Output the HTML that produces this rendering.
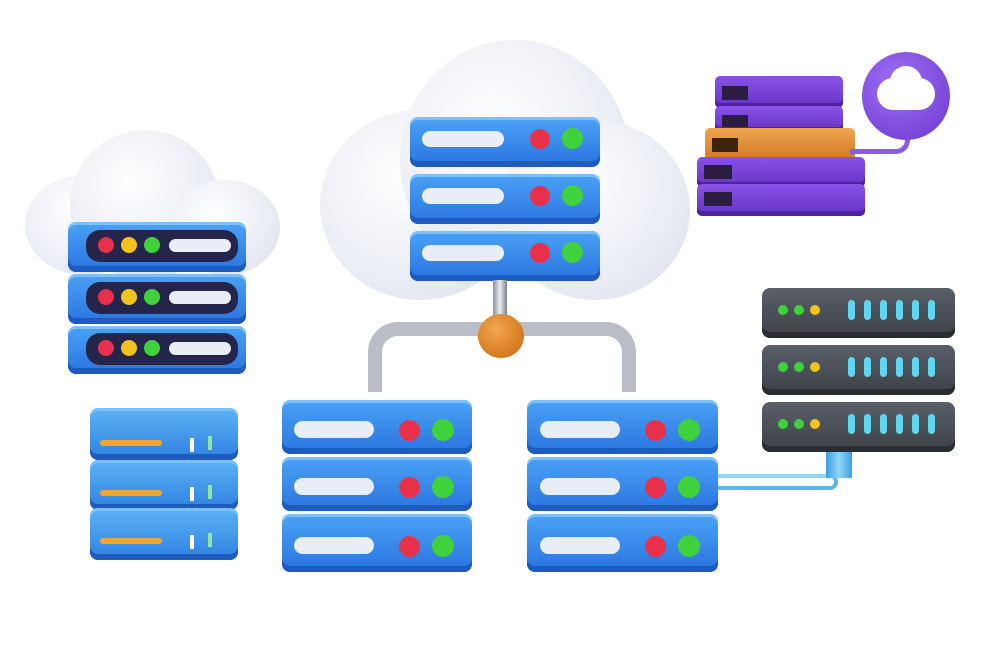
<!DOCTYPE html>
<html><head><meta charset="utf-8"><style>
body{margin:0;width:1000px;height:667px;background:#fff;position:relative;overflow:hidden;font-family:"Liberation Sans",sans-serif}
div{position:absolute;box-sizing:border-box}
.u{background:linear-gradient(#4aa2f5,#2a73e0);border-radius:8px;box-shadow:inset 0 -6px 0 #1e5bc0,inset 0 3px 0 #7cc0ff}
.p{background:#e9eef6;border-radius:10px}
.r{background:#e8304a;border-radius:50%}
.g{background:#3fd23c;border-radius:50%}
.y{background:#f2c21f;border-radius:50%}
.cl{background:radial-gradient(circle at 40% 35%,#ffffff,#e6e9f2 70%,#d6dbe8);border-radius:50%}
.gu{background:linear-gradient(#5a6068,#3c4148);border-radius:8px;box-shadow:inset 0 -6px 0 #2a2e33}
.bar{background:#5fd6f2;border-radius:4px;width:7px;height:20px}
.pu{background:linear-gradient(#8a52e8,#6434c4);border-radius:5px;box-shadow:inset 0 -5px 0 #4e22a0}
</style></head><body>

<!-- central cloud -->
<div class="cl" style="left:320px;top:110px;width:200px;height:190px"></div>
<div class="cl" style="left:400px;top:40px;width:230px;height:240px"></div>
<div class="cl" style="left:500px;top:120px;width:190px;height:180px"></div>

<!-- central stack -->
<div class="u" style="left:410px;top:117px;width:190px;height:50px"></div>
<div class="p" style="left:422px;top:131px;width:82px;height:16px"></div>
<div class="r" style="left:530px;top:129px;width:20px;height:20px"></div>
<div class="g" style="left:562px;top:128px;width:21px;height:21px"></div>
<div class="u" style="left:410px;top:174px;width:190px;height:50px"></div>
<div class="p" style="left:422px;top:188px;width:82px;height:16px"></div>
<div class="r" style="left:530px;top:186px;width:20px;height:20px"></div>
<div class="g" style="left:562px;top:185px;width:21px;height:21px"></div>
<div class="u" style="left:410px;top:231px;width:190px;height:50px"></div>
<div class="p" style="left:422px;top:245px;width:82px;height:16px"></div>
<div class="r" style="left:530px;top:243px;width:20px;height:20px"></div>
<div class="g" style="left:562px;top:242px;width:21px;height:21px"></div>

<!-- pipes -->
<div style="left:493px;top:280px;width:14px;height:50px;background:linear-gradient(90deg,#8a9098,#e8ecf0,#7a8088)"></div>
<div style="left:368px;top:322px;width:268px;height:70px;border:14px solid #b9bec6;border-bottom:none;border-radius:30px 30px 0 0"></div>
<div class="" style="left:478px;top:314px;width:46px;height:44px;border-radius:50%;background:radial-gradient(circle at 40% 35%,#f2a650,#d57a1e 70%,#a95a12)"></div>

<!-- bottom-left stack -->
<div class="u" style="left:282px;top:400px;width:190px;height:54px"></div>
<div class="p" style="left:294px;top:421px;width:80px;height:17px"></div>
<div class="r" style="left:399px;top:420px;width:21px;height:21px"></div>
<div class="g" style="left:432px;top:419px;width:22px;height:22px"></div>
<div class="u" style="left:282px;top:457px;width:190px;height:54px"></div>
<div class="p" style="left:294px;top:478px;width:80px;height:17px"></div>
<div class="r" style="left:399px;top:477px;width:21px;height:21px"></div>
<div class="g" style="left:432px;top:476px;width:22px;height:22px"></div>
<div class="u" style="left:282px;top:514px;width:190px;height:58px"></div>
<div class="p" style="left:294px;top:537px;width:80px;height:17px"></div>
<div class="r" style="left:399px;top:536px;width:21px;height:21px"></div>
<div class="g" style="left:432px;top:535px;width:22px;height:22px"></div>

<!-- bottom-right stack -->
<div class="u" style="left:527px;top:400px;width:191px;height:54px"></div>
<div class="p" style="left:540px;top:421px;width:80px;height:17px"></div>
<div class="r" style="left:645px;top:420px;width:21px;height:21px"></div>
<div class="g" style="left:678px;top:419px;width:22px;height:22px"></div>
<div class="u" style="left:527px;top:457px;width:191px;height:54px"></div>
<div class="p" style="left:540px;top:478px;width:80px;height:17px"></div>
<div class="r" style="left:645px;top:477px;width:21px;height:21px"></div>
<div class="g" style="left:678px;top:476px;width:22px;height:22px"></div>
<div class="u" style="left:527px;top:514px;width:191px;height:58px"></div>
<div class="p" style="left:540px;top:537px;width:80px;height:17px"></div>
<div class="r" style="left:645px;top:536px;width:21px;height:21px"></div>
<div class="g" style="left:678px;top:535px;width:22px;height:22px"></div>

<!-- cyan pipe -->
<div style="left:718px;top:474px;width:120px;height:16px;border:4px solid #5ab8e8;border-left:none;border-radius:0 8px 8px 0;border-top-color:#8fd6f5"></div>
<div style="left:826px;top:448px;width:26px;height:30px;background:linear-gradient(90deg,#3a9fe0,#8fd8f8,#3a9fe0)"></div>

<!-- left cloud -->
<div class="cl" style="left:25px;top:175px;width:120px;height:100px"></div>
<div class="cl" style="left:70px;top:130px;width:150px;height:150px"></div>
<div class="cl" style="left:170px;top:180px;width:110px;height:95px"></div>

<!-- left server -->
<div class="u" style="left:68px;top:222px;width:178px;height:50px"></div>
<div style="left:86px;top:230px;width:152px;height:32px;background:#23254a;border-radius:14px"></div>
<div class="r" style="left:98px;top:237px;width:16px;height:16px"></div>
<div class="y" style="left:121px;top:237px;width:16px;height:16px"></div>
<div class="g" style="left:144px;top:237px;width:16px;height:16px"></div>
<div class="p" style="left:169px;top:239px;width:62px;height:13px"></div>
<div class="u" style="left:68px;top:274px;width:178px;height:50px"></div>
<div style="left:86px;top:282px;width:152px;height:32px;background:#23254a;border-radius:14px"></div>
<div class="r" style="left:98px;top:289px;width:16px;height:16px"></div>
<div class="y" style="left:121px;top:289px;width:16px;height:16px"></div>
<div class="g" style="left:144px;top:289px;width:16px;height:16px"></div>
<div class="p" style="left:169px;top:291px;width:62px;height:13px"></div>
<div class="u" style="left:68px;top:326px;width:178px;height:48px"></div>
<div style="left:86px;top:333px;width:152px;height:32px;background:#23254a;border-radius:14px"></div>
<div class="r" style="left:98px;top:340px;width:16px;height:16px"></div>
<div class="y" style="left:121px;top:340px;width:16px;height:16px"></div>
<div class="g" style="left:144px;top:340px;width:16px;height:16px"></div>
<div class="p" style="left:169px;top:342px;width:62px;height:13px"></div>

<!-- small blue box -->
<div class="u" style="left:90px;top:408px;width:148px;height:52px;background:linear-gradient(#5cb4f5,#2f80e0)"></div>
<div style="left:100px;top:440px;width:62px;height:6px;background:#f2a630;border-radius:3px"></div>
<div style="left:190px;top:438px;width:4px;height:14px;background:#fff"></div>
<div style="left:208px;top:436px;width:4px;height:14px;background:#8ee6a0"></div>
<div class="u" style="left:90px;top:460px;width:148px;height:50px;background:linear-gradient(#5cb4f5,#2f80e0)"></div>
<div style="left:100px;top:490px;width:62px;height:6px;background:#f2a630;border-radius:3px"></div>
<div style="left:190px;top:487px;width:4px;height:14px;background:#fff"></div>
<div style="left:208px;top:485px;width:4px;height:14px;background:#8ee6a0"></div>
<div class="u" style="left:90px;top:508px;width:148px;height:52px;background:linear-gradient(#5cb4f5,#2f80e0)"></div>
<div style="left:100px;top:538px;width:62px;height:6px;background:#f2a630;border-radius:3px"></div>
<div style="left:190px;top:535px;width:4px;height:14px;background:#fff"></div>
<div style="left:208px;top:533px;width:4px;height:14px;background:#8ee6a0"></div>

<!-- purple stack -->
<div class="pu" style="left:715px;top:76px;width:128px;height:32px"></div>
<div class="pu" style="left:715px;top:106px;width:128px;height:26px"></div>
<div style="left:705px;top:128px;width:150px;height:32px;background:linear-gradient(#f0a550,#d07a22);border-radius:5px"></div>
<div class="pu" style="left:697px;top:157px;width:168px;height:30px"></div>
<div class="pu" style="left:697px;top:184px;width:168px;height:32px"></div>
<div style="left:722px;top:86px;width:26px;height:14px;background:#2a1d40"></div>
<div style="left:722px;top:115px;width:26px;height:12px;background:#2a1d40"></div>
<div style="left:712px;top:138px;width:26px;height:14px;background:#3a2410"></div>
<div style="left:704px;top:165px;width:28px;height:14px;background:#2a1d40"></div>
<div style="left:704px;top:192px;width:28px;height:14px;background:#2a1d40"></div>
<div style="left:850px;top:118px;width:60px;height:36px;border:5px solid #8a5ae8;border-left:none;border-top:none;border-radius:0 0 14px 0"></div>
<div style="left:862px;top:52px;width:88px;height:88px;border-radius:50%;background:radial-gradient(circle at 40% 35%,#a070f5,#6a36cc)"></div>
<div style="left:877px;top:78px;width:58px;height:32px;background:#fff;border-radius:16px"></div>
<div style="left:890px;top:66px;width:32px;height:32px;background:#fff;border-radius:50%"></div>

<!-- gray server -->
<div class="gu" style="left:762px;top:288px;width:193px;height:50px"></div>
<div class="gu" style="left:762px;top:345px;width:193px;height:50px"></div>
<div class="gu" style="left:762px;top:402px;width:193px;height:50px"></div>
<div class="g" style="left:778px;top:305px;width:10px;height:10px"></div><div class="g" style="left:794px;top:305px;width:10px;height:10px"></div><div class="y" style="left:810px;top:305px;width:10px;height:10px"></div>
<div class="g" style="left:778px;top:362px;width:10px;height:10px"></div><div class="g" style="left:794px;top:362px;width:10px;height:10px"></div><div class="y" style="left:810px;top:362px;width:10px;height:10px"></div>
<div class="g" style="left:778px;top:419px;width:10px;height:10px"></div><div class="g" style="left:794px;top:419px;width:10px;height:10px"></div><div class="y" style="left:810px;top:419px;width:10px;height:10px"></div>
<div class="bar" style="left:848px;top:300px"></div><div class="bar" style="left:864px;top:300px"></div><div class="bar" style="left:880px;top:300px"></div><div class="bar" style="left:896px;top:300px"></div><div class="bar" style="left:912px;top:300px"></div><div class="bar" style="left:928px;top:300px"></div>
<div class="bar" style="left:848px;top:357px"></div><div class="bar" style="left:864px;top:357px"></div><div class="bar" style="left:880px;top:357px"></div><div class="bar" style="left:896px;top:357px"></div><div class="bar" style="left:912px;top:357px"></div><div class="bar" style="left:928px;top:357px"></div>
<div class="bar" style="left:848px;top:414px"></div><div class="bar" style="left:864px;top:414px"></div><div class="bar" style="left:880px;top:414px"></div><div class="bar" style="left:896px;top:414px"></div><div class="bar" style="left:912px;top:414px"></div><div class="bar" style="left:928px;top:414px"></div>
</body></html>
